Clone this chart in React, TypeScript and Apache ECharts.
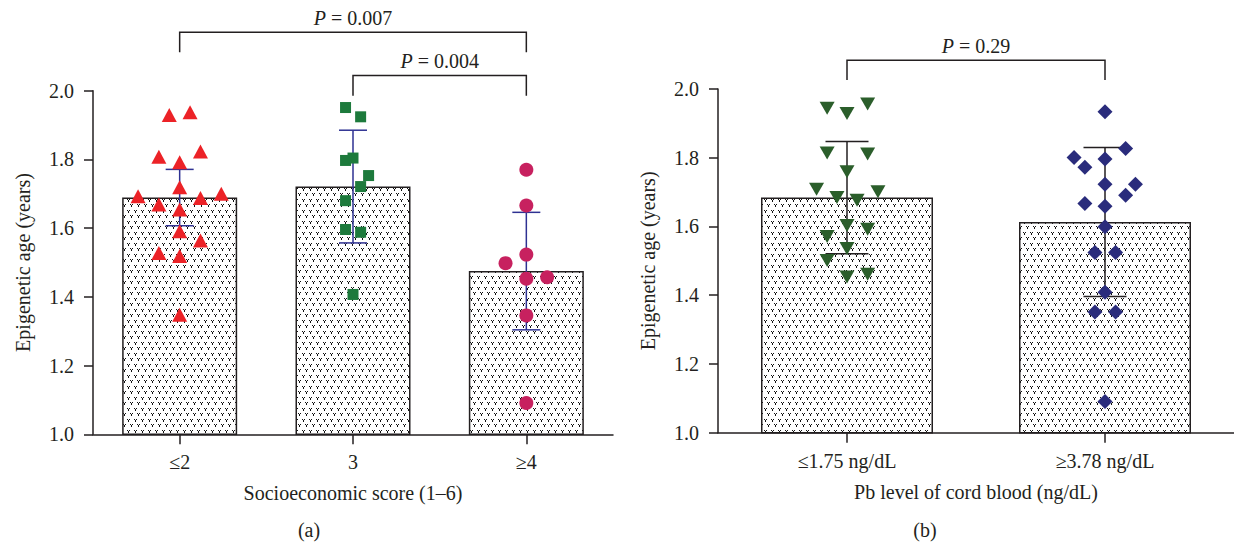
import React, { useEffect, useRef } from 'react';
import * as echarts from 'echarts';

// ---------- Panel (a): socioeconomic score ----------
const groupsA = ['≤2', '3', '≥4'];
const meanA = [1.689, 1.721, 1.475];
const sdA = [0.082, 0.164, 0.171];

const a1Values = [1.929, 1.937, 1.808, 1.823, 1.792, 1.719, 1.693, 1.669, 1.688, 1.700, 1.654, 1.591, 1.564, 1.528, 1.519, 1.348];
const a1Jitter = [-0.06, 0.06, -0.12, 0.12, 0, 0, -0.24, -0.12, 0.12, 0.24, 0, 0, 0.12, -0.12, 0, 0];
const a2Values = [1.951, 1.924, 1.797, 1.804, 1.753, 1.721, 1.680, 1.596, 1.588, 1.407];
const a2Jitter = [-0.043, 0.044, -0.043, 0, 0.09, 0.044, -0.043, -0.043, 0.044, 0];
const a3Values = [1.770, 1.666, 1.523, 1.498, 1.453, 1.457, 1.346, 1.091];
const a3Jitter = [0, 0, 0, -0.12, 0, 0.12, 0, 0];

const pLabelsA = ['0.007', '0.004'];
const pPairsA = [[0, 2], [1, 2]];
const pLevelsA = [2.17, 2.044];
const pDropsA = [2.112, 1.985];
const pTextLevelsA = [2.211, 2.087];

// ---------- Panel (b): Pb level of cord blood ----------
const groupsB = ['≤1.75 ng/dL', '≥3.78 ng/dL'];
const meanB = [1.684, 1.613];
const sdB = [0.163, 0.217];

const b1Values = [1.944, 1.929, 1.956, 1.814, 1.811, 1.759, 1.708, 1.684, 1.676, 1.701, 1.603, 1.592, 1.571, 1.536, 1.501, 1.453, 1.461];
const b1Jitter = [-0.077, 0, 0.08, -0.077, 0.08, 0, -0.118, -0.039, 0.039, 0.12, 0, 0.08, -0.077, 0, -0.077, 0, 0.08];
const b2Values = [1.934, 1.827, 1.801, 1.772, 1.796, 1.723, 1.723, 1.691, 1.667, 1.659, 1.599, 1.524, 1.524, 1.409, 1.351, 1.351, 1.091];
const b2Jitter = [0, 0.08, -0.12, -0.078, 0, 0, 0.118, 0.08, -0.078, 0, 0, -0.039, 0.041, 0, -0.039, 0.041, 0];

const pLabelsB = ['0.29'];
const pPairsB = [[0, 1]];
const pLevelsB = [2.084];
const pDropsB = [2.026];
const pTextLevelsB = [2.125];

const FONT = 'Liberation Serif';
const INK = '#231f20';
const FS = 20;

function makeTile() {
  const c = document.createElement('canvas');
  c.width = 14;
  c.height = 11;
  const ctx = c.getContext('2d')!;
  ctx.fillStyle = '#ffffff';
  ctx.fillRect(0, 0, 14, 11);
  ctx.fillStyle = '#111111';
  const v = (x: number, y: number) => {
    ctx.fillRect(x, y, 1, 1);
    ctx.fillRect(x + 2, y, 1, 1);
    ctx.fillRect(x + 1, y + 1, 1, 2);
  };
  v(1, 1);
  v(8, 1);
  v(4, 6);
  v(11, 6);
  return c;
}

function pts(values: number[], jitter: number[], cat: number) {
  return values.map((v, i) => [cat + jitter[i], v]);
}

export default function App() {
  const ref = useRef<HTMLDivElement>(null);

  useEffect(() => {
    if (!ref.current) return;
    const chart = echarts.init(ref.current, undefined, { renderer: 'svg' });
    const tile = makeTile();
    const pattern: any = { image: tile, repeat: 'repeat', imageWidth: 14, imageHeight: 11 };

    const yAxisBase = (gridIndex: number, nameGap: number) => ({
      type: 'value',
      gridIndex,
      min: 1.0,
      max: 2.0,
      interval: 0.2,
      name: 'Epigenetic age (years)',
      nameLocation: 'middle',
      nameGap,
      nameMoveOverlap: false,
      nameTextStyle: { fontFamily: FONT, fontSize: FS, color: INK },
      axisLine: { show: true, onZero: false, lineStyle: { color: INK, width: 1.5 } },
      axisTick: { show: true, length: 9, lineStyle: { color: INK, width: 1.5 } },
      splitLine: { show: false },
      axisLabel: {
        margin: 19,
        fontFamily: FONT,
        fontSize: FS,
        color: INK,
        formatter: (v: number) => v.toFixed(1),
      },
    });

    const catAxis = (gridIndex: number, data: string[], name: string) => ({
      type: 'category',
      gridIndex,
      data,
      name,
      nameLocation: 'middle',
      nameGap: 49,
      nameMoveOverlap: false,
      nameTextStyle: { fontFamily: FONT, fontSize: FS, color: INK },
      axisLine: { show: true, onZero: false, lineStyle: { color: INK, width: 1.5 } },
      axisTick: { show: true, alignWithLabel: true, length: 10, lineStyle: { color: INK, width: 1.5 } },
      axisLabel: { margin: 18, fontFamily: FONT, fontSize: FS, color: INK },
      splitLine: { show: false },
    });

    const valXAxis = (gridIndex: number, n: number) => ({
      type: 'value',
      gridIndex,
      min: -0.5,
      max: n - 0.5,
      show: false,
      axisLine: { show: false, onZero: false },
      splitLine: { show: false },
    });

    const errorSeries = (
      xAxisIndex: number,
      means: number[],
      sds: number[],
      color: string,
      cap: number
    ) => ({
      type: 'custom',
      xAxisIndex,
      yAxisIndex: xAxisIndex === 1 ? 0 : 1,
      z: 3,
      data: means.map((m, i) => [i, m, m - sds[i], m + sds[i]]),
      encode: { x: 0, y: [1, 2, 3] },
      renderItem: (params: any, api: any) => {
        const x = api.value(0);
        const lo = api.coord([x, api.value(2)]);
        const hi = api.coord([x, api.value(3)]);
        const st = { stroke: color, lineWidth: 1.5 };
        return {
          type: 'group',
          children: [
            { type: 'line', shape: { x1: lo[0], y1: lo[1], x2: hi[0], y2: hi[1] }, style: st },
            { type: 'line', shape: { x1: lo[0] - cap / 2, y1: lo[1], x2: lo[0] + cap / 2, y2: lo[1] }, style: st },
            { type: 'line', shape: { x1: hi[0] - cap / 2, y1: hi[1], x2: hi[0] + cap / 2, y2: hi[1] }, style: st },
          ],
        };
      },
    });

    const bracketSeries = (
      xAxisIndex: number,
      pairs: number[][],
      levels: number[],
      drops: number[],
      textLevels: number[],
      labels: string[]
    ) => ({
      type: 'custom',
      xAxisIndex,
      yAxisIndex: xAxisIndex === 1 ? 0 : 1,
      clip: false,
      z: 5,
      silent: true,
      data: pairs.map((p, i) => [p[0], p[1], levels[i], drops[i], textLevels[i]]),
      encode: { x: [0, 1], y: [2, 3, 4] },
      renderItem: (params: any, api: any) => {
        const x1 = api.value(0);
        const x2 = api.value(1);
        const a = api.coord([x1, api.value(3)]);
        const b = api.coord([x1, api.value(2)]);
        const c = api.coord([x2, api.value(2)]);
        const d = api.coord([x2, api.value(3)]);
        const t = api.coord([(x1 + x2) / 2, api.value(4)]);
        return {
          type: 'group',
          children: [
            {
              type: 'polyline',
              shape: { points: [a, b, c, d] },
              style: { stroke: INK, lineWidth: 1.5, fill: 'none' },
            },
            {
              type: 'text',
              x: t[0],
              y: t[1],
              style: {
                text: '{i|P} = ' + labels[params.dataIndex],
                fontFamily: FONT,
                fontSize: 20,
                fill: INK,
                align: 'center',
                verticalAlign: 'middle',
                rich: { i: { fontStyle: 'italic', fontFamily: FONT, fontSize: 20, fill: INK } },
              },
            },
          ],
        };
      },
    });

    const scatter = (
      xAxisIndex: number,
      data: number[][],
      symbol: string,
      size: number | number[],
      color: string,
      rotate = 0
    ) => ({
      type: 'scatter',
      xAxisIndex,
      yAxisIndex: xAxisIndex === 1 ? 0 : 1,
      data,
      symbol,
      symbolSize: size,
      symbolRotate: rotate,
      itemStyle: { color, opacity: 1 },
      z: 4,
    });

    const option: any = {
      animation: false,
      backgroundColor: '#ffffff',
      grid: [
        { left: 93, top: 90.7, width: 520, height: 343.6, outerBoundsMode: 'none', containLabel: false },
        { left: 718, top: 89, width: 516, height: 343.7, outerBoundsMode: 'none', containLabel: false },
      ],
      xAxis: [
        catAxis(0, groupsA, 'Socioeconomic score (1–6)'),
        valXAxis(0, groupsA.length),
        catAxis(1, groupsB, 'Pb level of cord blood (ng/dL)'),
        valXAxis(1, groupsB.length),
      ],
      yAxis: [yAxisBase(0, 60), yAxisBase(1, 60)],
      series: [
        {
          type: 'bar',
          xAxisIndex: 0,
          yAxisIndex: 0,
          data: meanA,
          barWidth: 115,
          z: 2,
          itemStyle: { color: pattern, borderColor: INK, borderWidth: 1.5 },
        },
        {
          type: 'bar',
          xAxisIndex: 2,
          yAxisIndex: 1,
          data: meanB,
          barWidth: 172,
          z: 2,
          itemStyle: { color: pattern, borderColor: INK, borderWidth: 1.5 },
        },
        errorSeries(1, meanA, sdA, '#2e3192', 28),
        errorSeries(3, meanB, sdB, INK, 43),
        scatter(1, pts(a1Values, a1Jitter, 0), 'triangle', [15, 14], '#ec2227'),
        scatter(1, pts(a2Values, a2Jitter, 1), 'rect', 11, '#1d7a3c'),
        scatter(1, pts(a3Values, a3Jitter, 2), 'circle', 14, '#c7215f'),
        scatter(3, pts(b1Values, b1Jitter, 0), 'triangle', [15, 13], '#2b5e2b', 180),
        scatter(3, pts(b2Values, b2Jitter, 1), 'diamond', [15, 15], '#2a2c7c'),
        bracketSeries(1, pPairsA, pLevelsA, pDropsA, pTextLevelsA, pLabelsA),
        bracketSeries(3, pPairsB, pLevelsB, pDropsB, pTextLevelsB, pLabelsB),
      ],
      graphic: [
        {
          type: 'text',
          x: 309,
          y: 530,
          style: { text: '(a)', fontFamily: FONT, fontSize: FS, fill: INK, align: 'center', verticalAlign: 'middle' },
        },
        {
          type: 'text',
          x: 925,
          y: 530,
          style: { text: '(b)', fontFamily: FONT, fontSize: FS, fill: INK, align: 'center', verticalAlign: 'middle' },
        },
      ],
    };

    chart.setOption(option);
    return () => chart.dispose();
  }, []);

  return (
    <div
      ref={ref}
      style={{ position: 'absolute', left: 0, top: 0, width: 1234, height: 545, background: '#fff' }}
    />
  );
}
